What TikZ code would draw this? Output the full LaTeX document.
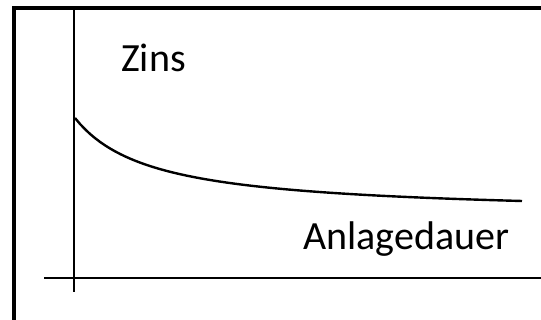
\documentclass[tikz,border=0pt]{standalone}
\usepackage{fontspec}
\setmainfont{Carlito}
\begin{document}
\begin{tikzpicture}[x=1pt,y=-1pt]
    \useasboundingbox (0,0) rectangle (541,320);
    
    %Frame
    \draw[line width=4pt] (14,320) |- (541,8);
    
    %Axes
    \coordinate (yend) at (74,10);
    \coordinate (ytip) at (74,292);
    \coordinate (xbeg) at (44,278);
    \coordinate (xend) at (541,278);
    \draw[line width=1.6pt] (ytip) -- (yend);
    \draw[line width=1.6pt] (xbeg) -- (xend);
    
    %Labels
    \node[anchor=base west,inner sep=0pt,font=\fontsize{40}{48}\selectfont] (zins) at (121,72) {Zins};
    \node[anchor=base west,inner sep=0pt,font=\fontsize{40}{48}\selectfont] (dauer) at (303,250) {Anlagedauer};
    
    %Curve
    \draw[line width=2.4pt] plot[domain=75:522,samples=90] (\x,{215.25-7466/(\x+1.77)});
\end{tikzpicture}
\end{document}
